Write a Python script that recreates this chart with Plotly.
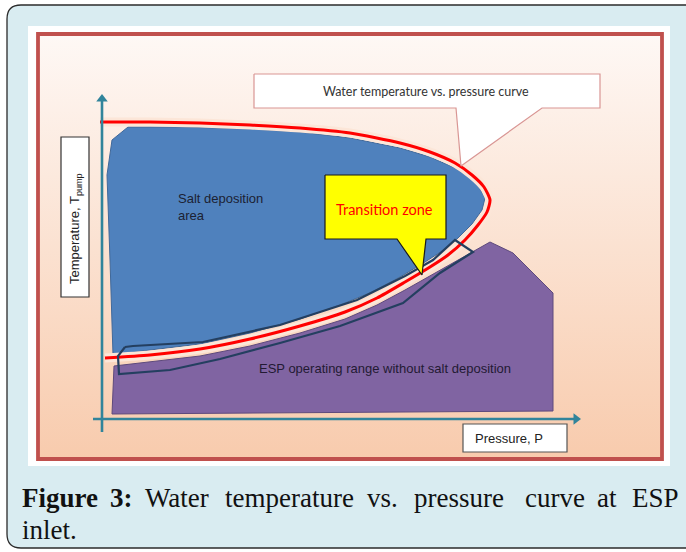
import plotly.graph_objects as go

# ---------------- data (diagram geometry in page units) ----------------
# Red "water temperature vs pressure" curve
curve_x = [100, 150, 200, 250, 300, 350, 400, 430, 455, 472, 484, 490, 487, 478, 465, 448, 430, 405, 377, 345, 300, 250, 200, 150, 105]
curve_y = [122, 122, 123, 125, 128, 133, 143, 152, 163, 175, 187, 200, 212, 225, 240, 255, 267, 282, 298, 312, 326, 339, 349, 355, 358]

# Salt deposition area (blue)
salt_x = [128, 180, 250, 300, 350, 400, 430, 455, 470, 479, 485, 482, 472, 458, 442, 425, 400, 372, 340, 300, 250, 200, 150, 125, 113, 110, 107, 112, 128]
salt_y = [127, 127, 129, 132, 138, 148, 157, 168, 178, 187, 198, 210, 224, 238, 251, 262, 277, 292, 305, 319, 333, 344, 350, 353, 355, 260, 175, 140, 127]

# ESP operating range without salt deposition (purple)
esp_x = [114, 150, 200, 250, 300, 345, 377, 405, 432, 455, 475, 490, 513, 530, 553, 553, 112, 114]
esp_y = [366, 362, 356, 346, 333, 319, 305, 290, 275, 262, 251, 242, 253, 270, 293, 411, 414, 366]

# Transition zone band outline
band_x = [125, 133, 203, 280, 357, 405, 433, 455, 473, 440, 403, 340, 280, 220, 170, 119, 118, 125]
band_y = [347, 346, 342, 325, 300, 276, 260, 240, 252, 273, 303, 326, 343, 359, 370, 374, 356, 347]

# Callouts
water_call_x = [254, 600, 600, 542, 461, 456, 254, 254]
water_call_y = [74, 74, 108, 108, 166, 108, 108, 74]
trans_call_x = [325, 446, 446, 426, 422, 397, 325, 325]
trans_call_y = [175, 175, 239, 239, 275, 239, 239, 175]

# Background panel inside the red frame
bg_x = [38, 662, 662, 38, 38]
bg_y = [35, 35, 459, 459, 35]

# Axes (tail -> head)
yaxis_x = [102, 102]
yaxis_y = [432, 99]
xaxis_x = [93, 576]
xaxis_y = [419, 419]

# Texts
label_salt = "Salt deposition<br>area"
label_esp = "ESP operating range without salt deposition"
label_trans = "Transition zone"
label_water = "Water temperature vs. pressure curve"
label_pressure = "Pressure, P"
label_temp = "Temperature, T<sub>pump</sub>"
caption_words = ["<b>Figure</b>", "<b>3:</b>", "Water", "temperature", "vs.", "pressure", "curve", "at", "ESP"]
caption_word_x = [20, 108, 143, 223, 365, 412, 523, 595, 630]
caption_line2 = "inlet."

# ---------------- figure ----------------
W, H = 686, 552

fig = go.Figure()

fig.add_trace(go.Scatter(
    x=bg_x, y=bg_y, mode="lines", fill="toself", line=dict(width=0),
    fillgradient=dict(type="vertical", colorscale=[[0, "#fef8f5"], [1, "#f8cbad"]], start=35, stop=459),
    hoverinfo="skip"))

fig.add_trace(go.Scatter(x=salt_x, y=salt_y, mode="lines", fill="toself",
                         fillcolor="#4f81bd", line=dict(color="#41699a", width=1), hoverinfo="skip"))
fig.add_trace(go.Scatter(x=esp_x, y=esp_y, mode="lines", fill="toself",
                         fillcolor="#8064a2", line=dict(color="#5e4a7c", width=1), hoverinfo="skip"))
fig.add_trace(go.Scatter(x=curve_x, y=curve_y, mode="lines",
                         line=dict(color="#fce6d8", width=9, shape="spline", smoothing=0.6), hoverinfo="skip"))
fig.add_trace(go.Scatter(x=curve_x, y=curve_y, mode="lines",
                         line=dict(color="#ff0000", width=3, shape="spline", smoothing=0.6), hoverinfo="skip"))
fig.add_trace(go.Scatter(x=band_x, y=band_y, mode="lines",
                         line=dict(color="#243f60", width=2.2), hoverinfo="skip"))
fig.add_trace(go.Scatter(x=water_call_x, y=water_call_y, mode="lines", fill="toself",
                         fillcolor="#ffffff", line=dict(color="#d99694", width=1.2), hoverinfo="skip"))
fig.add_trace(go.Scatter(x=trans_call_x, y=trans_call_y, mode="lines", fill="toself",
                         fillcolor="#ffff00", line=dict(color="#1a1a1a", width=1.2), hoverinfo="skip"))

axis_col = "#31849b"
for ax_x, ax_y, sym in ((yaxis_x, yaxis_y, "triangle-up"), (xaxis_x, xaxis_y, "triangle-right")):
    fig.add_trace(go.Scatter(x=ax_x, y=ax_y, mode="lines", line=dict(color=axis_col, width=2.6),
                             hoverinfo="skip"))
    fig.add_trace(go.Scatter(x=[ax_x[-1]], y=[ax_y[-1]], mode="markers",
                             marker=dict(symbol=sym, size=10, color=axis_col, line=dict(width=0)),
                             hoverinfo="skip"))

shapes = [
    dict(type="path", layer="below",
         path="M 21,5 L 710,5 L 710,548 L 21,548 Q 7,548 7,534 L 7,19 Q 7,5 21,5 Z",
         fillcolor="#d9ecf1", line=dict(color="#2b2b2b", width=1.3), xref="x", yref="y"),
    dict(type="rect", layer="below", x0=28, x1=670, y0=26, y1=466,
         fillcolor="#ffffff", line=dict(width=0), xref="x", yref="y"),
    dict(type="rect", layer="above", x0=38, x1=662, y0=34, y1=459,
         fillcolor="rgba(0,0,0,0)", line=dict(color="#c0504d", width=3.8), xref="x", yref="y"),
    dict(type="rect", layer="above", x0=61, x1=89, y0=137, y1=297,
         fillcolor="#ffffff", line=dict(color="#333333", width=1.2), xref="x", yref="y"),
    dict(type="rect", layer="above", x0=463, x1=567, y0=424, y1=452,
         fillcolor="#ffffff", line=dict(color="#555555", width=1.2), xref="x", yref="y"),
]

sans = "Liberation Sans, Arial, sans-serif"
annotations = [
    dict(x=176, y=207, xref="x", yref="y", text=label_salt, showarrow=False, xanchor="left",
         align="left", font=dict(family=sans, size=13, color="#1c2233")),
    dict(x=257, y=368, xref="x", yref="y", text=label_esp, showarrow=False, xanchor="left",
         font=dict(family=sans, size=13, color="#231a33")),
    dict(x=384, y=209, xref="x", yref="y", text=label_trans, showarrow=False,
         font=dict(family="Lato, Open Sans, sans-serif", size=14.5, color="#ff0000")),
    dict(x=426, y=91, xref="x", yref="y", text=label_water, showarrow=False,
         font=dict(family="Lato, Open Sans, sans-serif", size=12.5, color="#333333")),
    dict(x=473, y=438, xref="x", yref="y", text=label_pressure, showarrow=False, xanchor="left",
         font=dict(family=sans, size=13, color="#222222")),
    dict(x=75, y=229, xref="x", yref="y", text=label_temp, showarrow=False, textangle=-90,
         font=dict(family=sans, size=13, color="#222222")),
]
serif = dict(family="Liberation Serif, serif", size=27, color="#111111")
for w, wx in zip(caption_words, caption_word_x):
    annotations.append(dict(x=wx, y=498, xref="x", yref="y", text=w, showarrow=False,
                            xanchor="left", font=serif))
annotations.append(dict(x=20, y=530, xref="x", yref="y", text=caption_line2, showarrow=False,
                        xanchor="left", font=serif))

fig.update_layout(
    width=W, height=H, margin=dict(l=0, r=0, t=0, b=0),
    paper_bgcolor="#ffffff", plot_bgcolor="#ffffff", showlegend=False,
    xaxis=dict(range=[0, W], visible=False, fixedrange=True),
    yaxis=dict(range=[H, 0], visible=False, fixedrange=True),
    shapes=shapes, annotations=annotations,
)

fig.write_html("out.html", config={"displayModeBar": False},
               post_script="document.body.style.margin='0';")
